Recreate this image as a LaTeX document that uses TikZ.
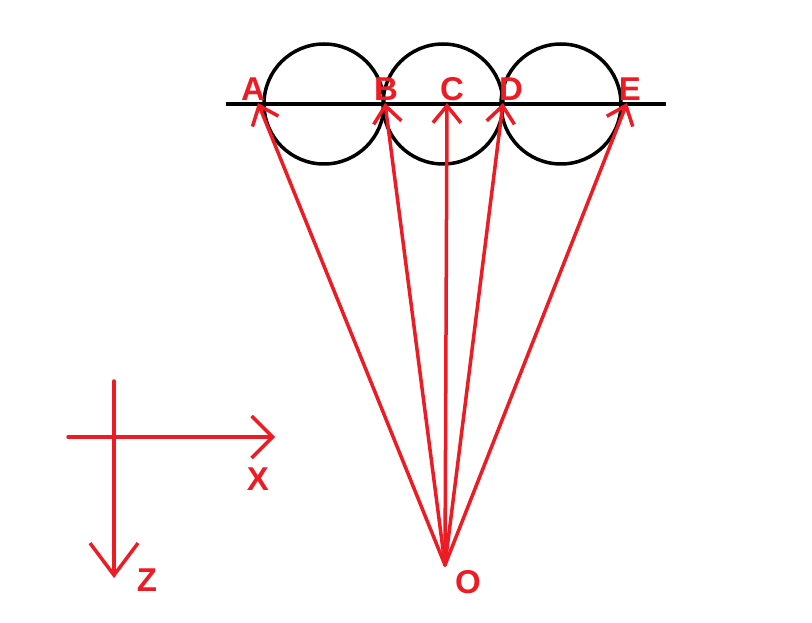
\documentclass[tikz,border=0pt]{standalone}
\usepackage{fontspec}
\setmainfont{Liberation Sans}
\usetikzlibrary{arrows.meta}
\definecolor{pred}{RGB}{237,28,36}
\tikzset{
  ray/.style={draw=pred, line width=3.5pt, line cap=round, -{Straight Barb[length=17pt,width=28pt,line width=3.5pt]}},
  axis/.style={draw=pred, line width=3.5pt, line cap=round},
  lbl/.style={text=pred, font=\bfseries\fontsize{33}{33}\selectfont, inner sep=0pt},
  circ/.style={draw=black, line width=3.5pt}
}
\begin{document}
\begin{tikzpicture}[x=1pt,y=-1pt]
\useasboundingbox (0,0) rectangle (812,623);
% circles and line
\draw[circ] (324,104) circle (60);
\draw[circ] (443,104) circle (60);
\draw[circ] (561,104) circle (60);
\coordinate (L1) at (226,104);
\coordinate (L2) at (666,104);
\draw[draw=black, line width=3.5pt] (L1) -- (L2);
% points
\coordinate (O) at (445,565);
\coordinate (A) at (258,103);
\coordinate (B) at (385,103);
\coordinate (C) at (447,103);
\coordinate (D) at (503,103);
\coordinate (E) at (627,103);
\draw[ray] (O) -- (A);
\draw[ray] (O) -- (B);
\draw[ray] (O) -- (C);
\draw[ray] (O) -- (D);
\draw[ray] (O) -- (E);
% labels
\node[lbl] (lA) at (253,89) {A};
\node[lbl] (lB) at (386,89) {B};
\node[lbl] (lC) at (452,89) {C};
\node[lbl] (lD) at (511,89) {D};
\node[lbl] (lE) at (630,89) {E};
\node[lbl] (lO) at (468,582) {O};
% axes
\coordinate (X0) at (68,437);
\coordinate (X1) at (275,437);
\coordinate (Z0) at (114,381);
\coordinate (Z1) at (114,578);
\draw[axis, -{Straight Barb[length=21pt,width=42pt,line width=3.5pt]}] (X0) -- (X1);
\draw[axis, -{Straight Barb[length=32pt,width=48pt,line width=3.5pt]}] (Z0) -- (Z1);
\node[lbl] (lX) at (258,479) {X};
\node[lbl] (lZ) at (147,580) {Z};
\end{tikzpicture}
\end{document}
